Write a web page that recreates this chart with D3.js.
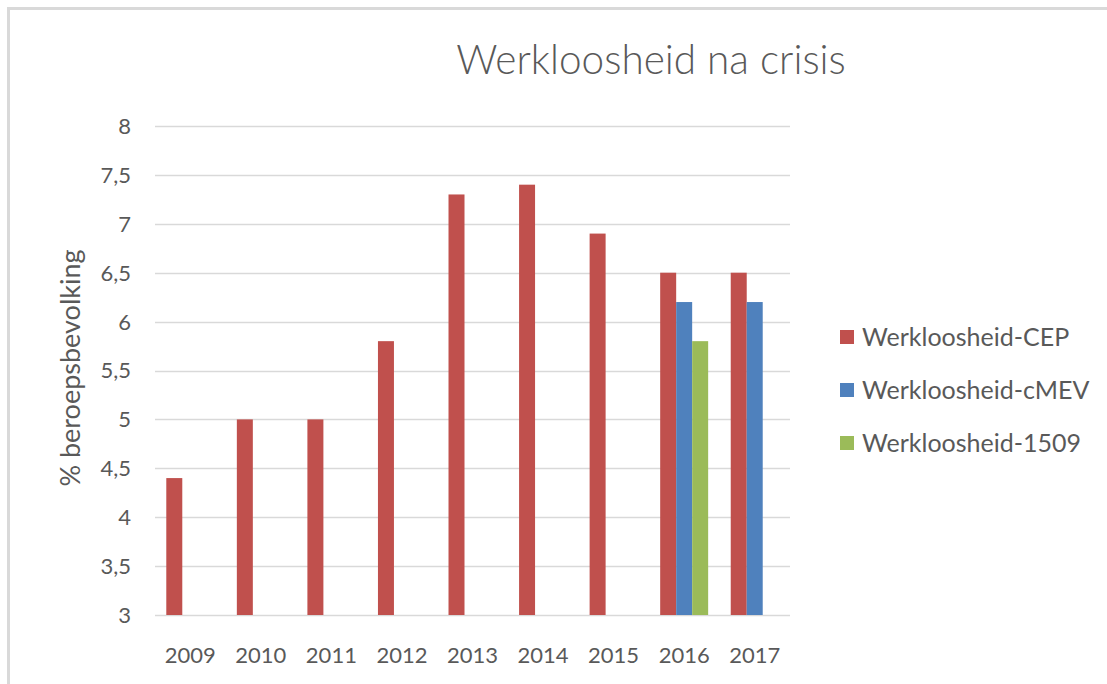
<!DOCTYPE html>
<html>
<head>
<meta charset="utf-8">
<script src="https://cdnjs.cloudflare.com/ajax/libs/d3/7.8.5/d3.min.js"></script>
<style>
  body { margin: 0; background: #fff; }
  text { font-family: Lato, "Open Sans", sans-serif; fill: #595959; }
</style>
</head>
<body>
<div id="chart"></div>
<script>
// data
var years = ["2009", "2010", "2011", "2012", "2013", "2014", "2015", "2016", "2017"];
var seriesNames = ["Werkloosheid-CEP", "Werkloosheid-cMEV", "Werkloosheid-1509"];
var cep  = [4.4, 5, 5, 5.8, 7.3, 7.4, 6.9, 6.5, 6.5];
var cmev = [null, null, null, null, null, null, null, 6.2, 6.2];
var w1509 = [null, null, null, null, null, null, null, 5.8, null];
var yTicks = [3, 3.5, 4, 4.5, 5, 5.5, 6, 6.5, 7, 7.5, 8];
var colors = ["#C0504D", "#4F81BD", "#9BBB59"];

var width = 1107, height = 684;
var plot = {left: 155, right: 790, top: 126, bottom: 615};

var svg = d3.select("#chart").append("svg")
	.attr("width", width)
	.attr("height", height);

// frame
svg.append("rect")
	.attr("x", 8.5).attr("y", 8.5)
	.attr("width", width + 10).attr("height", height + 10)
	.attr("fill", "none")
	.attr("stroke", "#d9d9d9")
	.attr("stroke-width", 3);

var x0 = d3.scaleBand()
	.domain(years)
	.range([plot.left, plot.right])
	.paddingInner(0.32)
	.paddingOuter(0.16);

var x1 = d3.scaleBand()
	.domain(seriesNames)
	.range([0, x0.bandwidth()]);

var y = d3.scaleLinear()
	.domain([3, 8])
	.range([plot.bottom, plot.top]);

// gridlines
svg.append("g")
	.selectAll("line")
	.data(yTicks)
	.enter()
	.append("line")
	.attr("x1", plot.left)
	.attr("x2", plot.right)
	.attr("y1", function(d) { return Math.round(y(d)) + 0.5; })
	.attr("y2", function(d) { return Math.round(y(d)) + 0.5; })
	.attr("stroke", "#d9d9d9")
	.attr("stroke-width", 1.5);

// y tick labels
var fmt = function(d) { return String(d).replace(".", ","); };
svg.append("g")
	.selectAll("text")
	.data(yTicks)
	.enter()
	.append("text")
	.attr("x", 131)
	.attr("y", function(d) { return y(d); })
	.attr("dy", "0.36em")
	.attr("text-anchor", "end")
	.style("font-size", "22px")
	.text(fmt);

// x labels
svg.append("g")
	.selectAll("text")
	.data(years)
	.enter()
	.append("text")
	.attr("x", function(d) { return x0(d) + x0.bandwidth() / 2; })
	.attr("y", 663)
	.attr("text-anchor", "middle")
	.style("font-size", "22px")
	.text(function(d) { return d; });

// bars
var allSeries = [cep, cmev, w1509];
var bars = [];
allSeries.forEach(function(vals, s) {
	vals.forEach(function(v, i) {
		if (v != null) bars.push({year: years[i], series: seriesNames[s], value: v, color: colors[s]});
	});
});

svg.append("g")
	.selectAll("rect")
	.data(bars)
	.enter()
	.append("rect")
	.attr("x", function(d) { return x0(d.year) + x1(d.series); })
	.attr("width", x1.bandwidth())
	.attr("y", function(d) { return y(d.value); })
	.attr("height", function(d) { return y(3) - y(d.value); })
	.attr("fill", function(d) { return d.color; });

// title
svg.append("text")
	.attr("x", 651)
	.attr("y", 74)
	.attr("text-anchor", "middle")
	.style("font-size", "40.5px")
	.style("font-weight", 300)
	.text("Werkloosheid na crisis");

// y axis title
svg.append("text")
	.attr("transform", "translate(80,368) rotate(-90)")
	.attr("text-anchor", "middle")
	.style("font-size", "27px")
	.text("% beroepsbevolking");

// legend
var legend = svg.append("g")
	.selectAll("g")
	.data(seriesNames)
	.enter()
	.append("g")
	.attr("transform", function(d, i) { return "translate(840," + (337 + i * 53) + ")"; });

legend.append("rect")
	.attr("x", 0).attr("y", -7)
	.attr("width", 14).attr("height", 14)
	.attr("fill", function(d, i) { return colors[i]; });

legend.append("text")
	.attr("x", 22)
	.attr("dy", "0.36em")
	.style("font-size", "25px")
	.text(function(d) { return d; });
</script>
</body>
</html>
